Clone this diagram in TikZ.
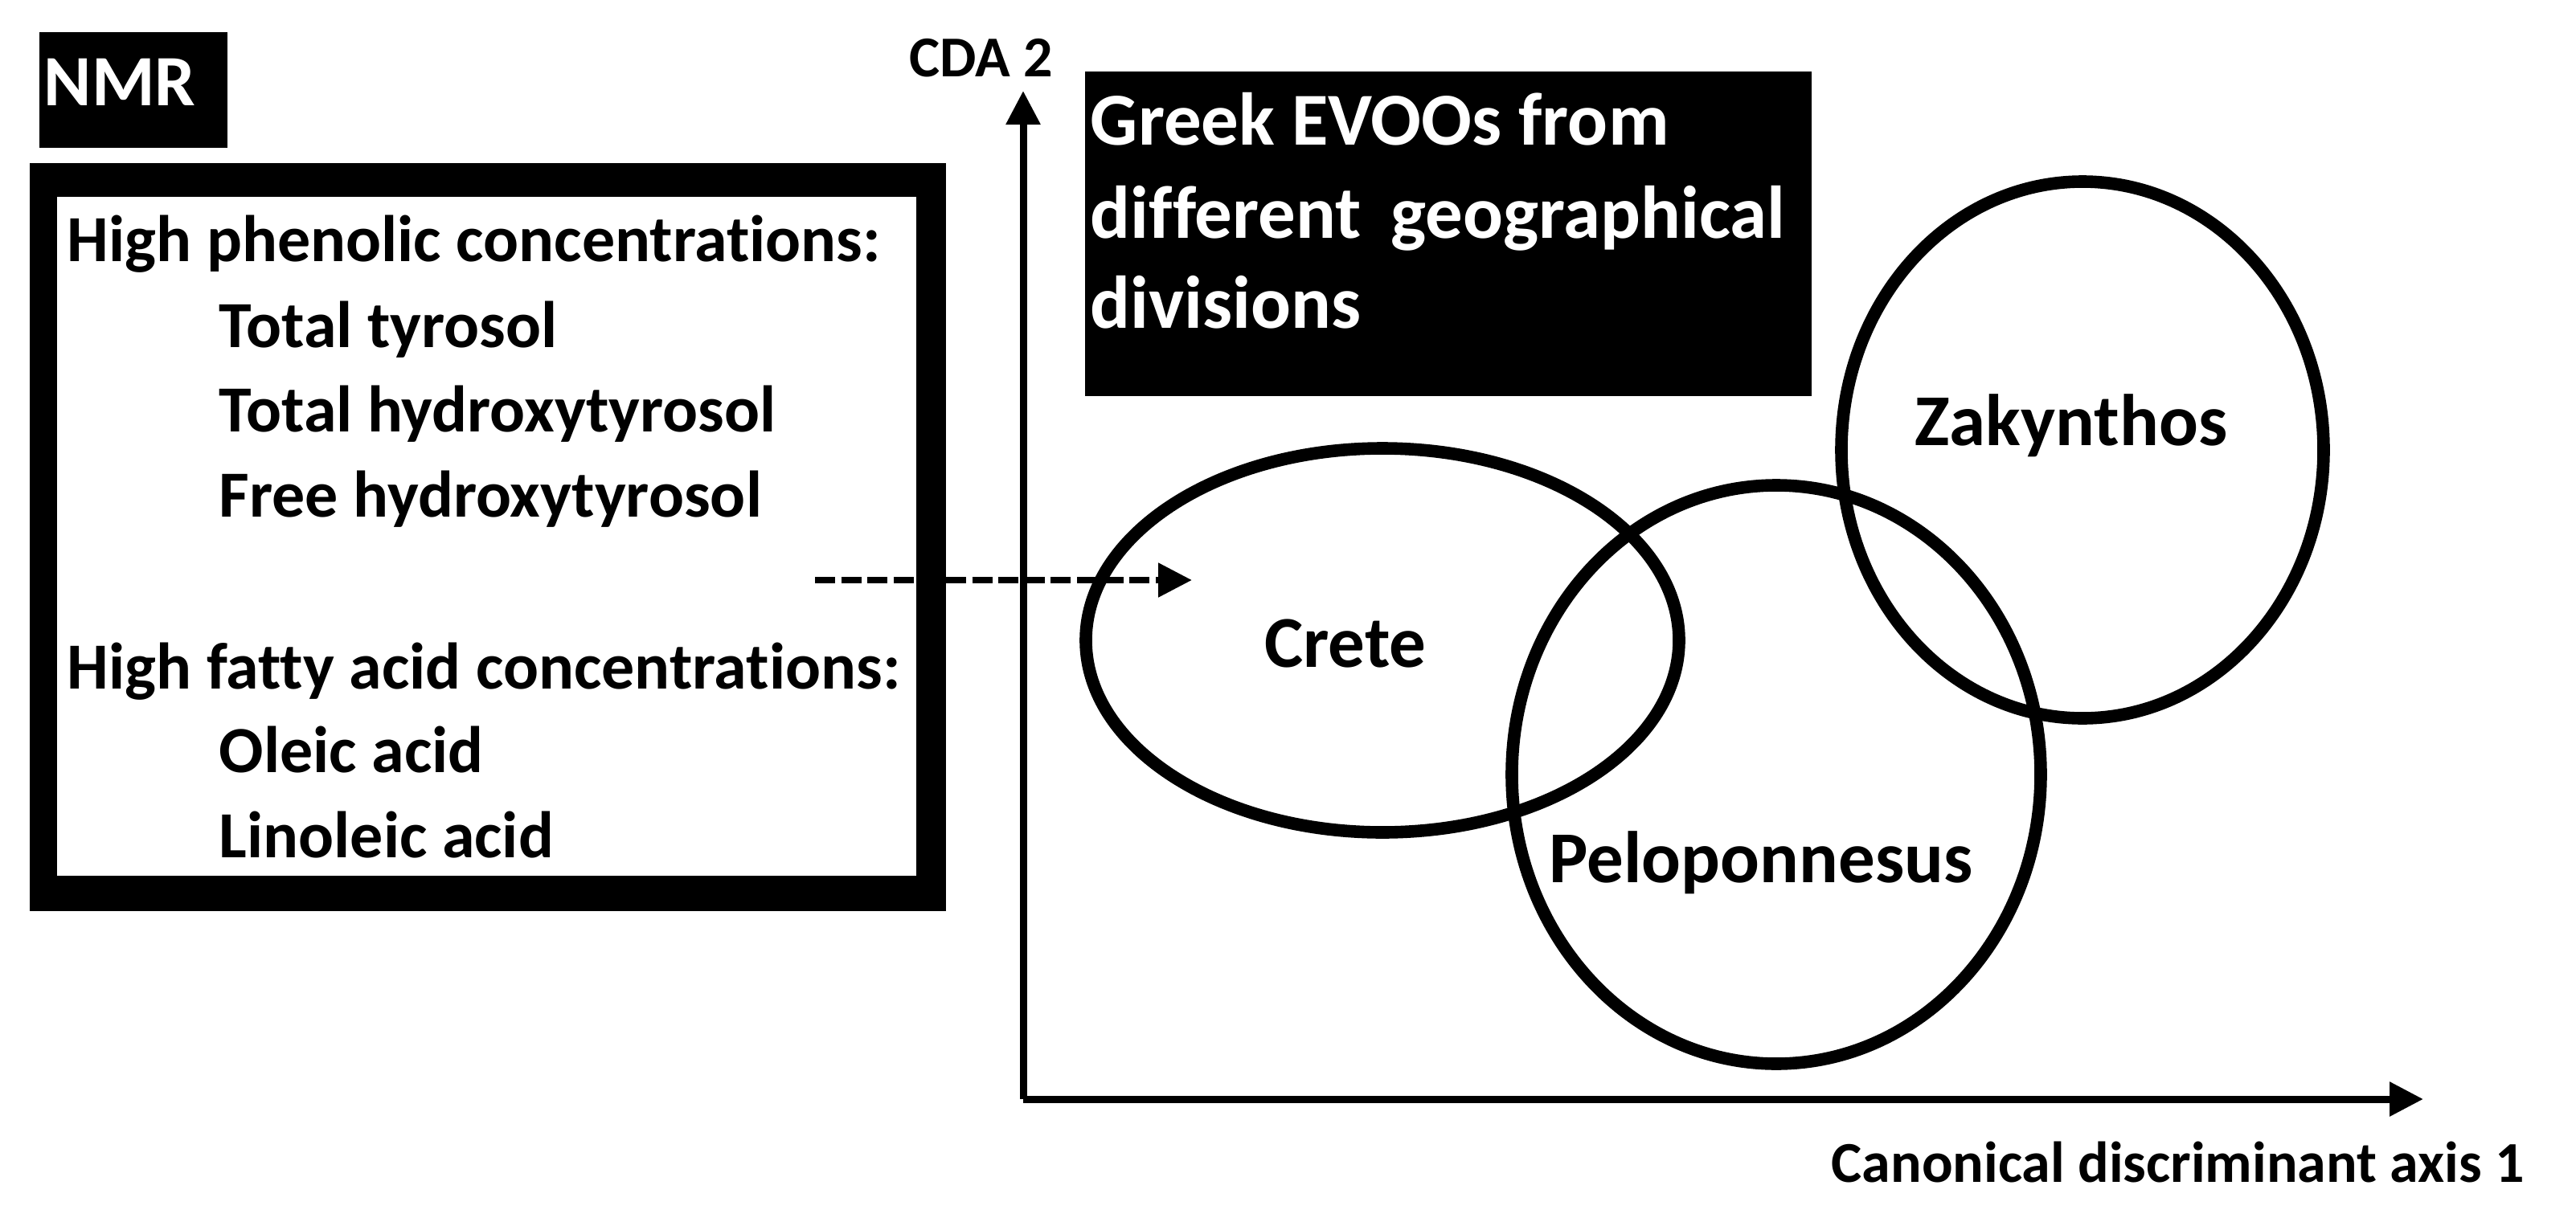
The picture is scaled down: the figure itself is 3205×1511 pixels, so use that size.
\documentclass[tikz,border=0pt]{standalone}
\usepackage{fontspec}
\setmainfont{Carlito}[Ligatures=NoCommon]
\usetikzlibrary{arrows.meta}
\tikzset{
  box/.style={fill=black, inner sep=0pt, outer sep=0pt, anchor=north west},
  whitebox/.style={fill=white, inner sep=0pt, outer sep=0pt, anchor=north west},
  paneltxt/.style={font=\fontsize{20.5pt}{24pt}\selectfont\bfseries, anchor=base west, inner sep=0pt},
  bigtxt/.style={font=\fontsize{22.75pt}{27pt}\selectfont\bfseries, inner sep=0pt},
  axtxt/.style={font=\fontsize{18pt}{22pt}\selectfont\bfseries, anchor=base west, inner sep=0pt},
  axisline/.style={line width=2.25pt, -{Triangle[length=10.5pt,width=10.25pt]}},
  dasharrow/.style={line width=2.1pt, dash pattern=on 6.25pt off 1.9pt, -{Triangle[length=10.5pt,width=10.25pt]}},
  region/.style={line width=3.9pt}
}
\begin{document}
\begin{tikzpicture}[x=0.25pt,y=-0.25pt]
\useasboundingbox (0,0) rectangle (3205,1511);
% NMR tag
\node[box, minimum width=58.5pt, minimum height=36pt] (nmrbox) at (49,40) {};
\node[bigtxt, anchor=base west, text=white, font=\fontsize{22.5pt}{27pt}\selectfont\bfseries] (nmr) at (54,131) {NMR};
% panel
\node[box, minimum width=285pt, minimum height=232.75pt] (panel) at (37,203) {};
\node[whitebox, minimum width=267.25pt, minimum height=211.25pt] (panelin) at (71,245) {};
\node[paneltxt] (h1) at (83,325) {High phenolic concentrations:};
\node[paneltxt] (a1) at (272,432) {Total tyrosol};
\node[paneltxt] (a2) at (272,537) {Total hydroxytyrosol};
\node[paneltxt] (a3) at (272,643) {Free hydroxytyrosol};
\node[paneltxt] (h2) at (83,857) {High fatty acid concentrations:};
\node[paneltxt] (b1) at (272,961) {Oleic acid};
\node[paneltxt] (b2) at (272,1067) {Linoleic acid};
% Greek box
\node[box, minimum width=226pt, minimum height=101pt] (greek) at (1350,89) {};
\node[bigtxt, anchor=base west, text=white, font=\fontsize{23.25pt}{27pt}\selectfont\bfseries] (g1) at (1356,180) {Greek EVOOs from};
\node[bigtxt, anchor=base west, text=white, font=\fontsize{23.25pt}{27pt}\selectfont\bfseries] (g2) at (1356,296) {different\hspace{4pt} geographical};
\node[bigtxt, anchor=base west, text=white, font=\fontsize{23.25pt}{27pt}\selectfont\bfseries] (g3) at (1356,408) {divisions};
% axes
\coordinate (O) at (1273,1368);
\coordinate (ytip) at (1273,113);
\coordinate (xtip) at (3015,1368);
\draw[axisline] (O) -- (ytip);
\draw[axisline] (O) -- (xtip);
\node[axtxt] (ylab) at (1131,95) {CDA 2};
\node[axtxt] (xlab) at (2278,1471) {Canonical discriminant axis 1};
% regions
\draw[region] (1720,797) ellipse [x radius=369, y radius=239];
\draw[region] (2210,964) ellipse [x radius=329, y radius=360];
\draw[region] (2591,560) ellipse [x radius=300, y radius=334];
\node[bigtxt, anchor=base] (crete) at (1674,830) {Crete};
\node[bigtxt, anchor=base] (pelo) at (2191,1098) {Peloponnesus};
\node[bigtxt, anchor=base] (zak) at (2577,554) {Zakynthos};
% dashed arrow
\coordinate (dstart) at (1014,722);
\coordinate (dend) at (1483,722);
\draw[dasharrow] (dstart) -- (dend);
\end{tikzpicture}
\end{document}
